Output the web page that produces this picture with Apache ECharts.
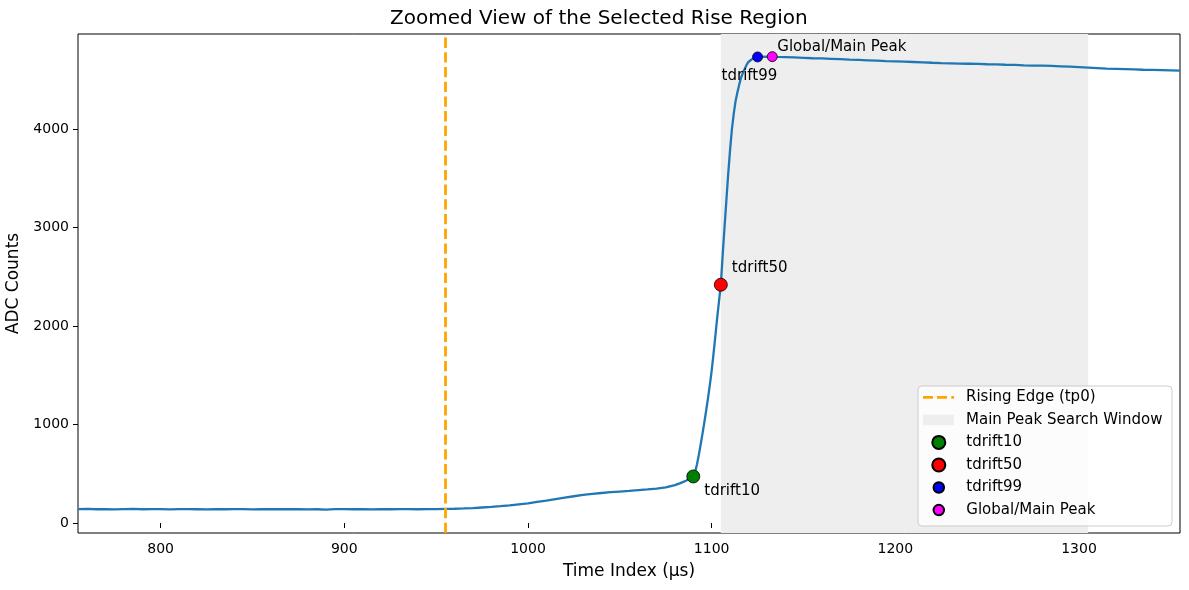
<!DOCTYPE html>
<html>
<head>
<meta charset="utf-8">
<script src="https://cdn.jsdelivr.net/npm/echarts@6/dist/echarts.min.js"></script>
<style>
html,body{margin:0;padding:0;background:#ffffff;}
#chart{width:1189px;height:590px;}
</style>
</head>
<body>
<div id="chart"></div>
<script>
// ---- data ----
const timeIdx = [
  755,760,765,770,775,780,785,790,795,800,805,810,815,820,825,830,835,840,845,850,
  855,860,865,870,875,880,885,890,895,900,905,910,915,920,925,930,935,940,945,950,
  955,960,965,970,975,980,985,990,995,1000,1005,1010,1015,1020,1025,1030,1035,1040,1045,1050,
  1055,1060,1065,1070,1075,1080,1083,1086,1088,1090,1091,1092,1093,1094,1095,1096,1097,1098,1099,1100,
  1101,1102,1103,1104,1105,1106,1107,1108,1109,1110,1111,1112,1113,1114,1115,1116,1117,1118,1119,1120,
  1122,1124,1125,1127,1130,1133,1136,1140,1145,1150,1155,1160,1165,1170,1175,1180,1185,1190,1195,1200,
  1205,1210,1215,1220,1225,1230,1235,1240,1245,1250,1255,1260,1265,1270,1275,1280,1285,1290,1295,1300,
  1305,1310,1315,1320,1325,1330,1335,1340,1345,1350,1355
];
const adc = [
  141,143,140,142,139,141,143,140,141,142,138,141,142,140,138,141,140,142,141,139,
  141,140,142,140,141,139,140,137,142,141,140,141,139,141,140,142,141,140,142,141,
  143,145,148,152,158,164,171,180,190,200,214,228,243,258,272,285,296,305,313,320,
  327,335,342,350,362,385,405,430,450,473,520,595,690,795,905,1020,1140,1265,1400,1545,
  1715,1895,2080,2250,2419,2720,3000,3270,3540,3780,3990,4150,4280,4370,4450,4520,4570,4610,4650,4680,
  4710,4725,4731,4732,4733,4734,4732,4730,4726,4722,4718,4716,4712,4708,4704,4701,4697,4693,4688,4686,
  4683,4680,4677,4672,4668,4666,4664,4662,4660,4657,4655,4652,4650,4646,4644,4642,4640,4636,4632,4627,
  4622,4617,4612,4610,4607,4604,4601,4599,4597,4595,4593
];
const tp0 = 955;
const searchWindow = [1105, 1305];
const markerNames = ['tdrift10', 'tdrift50', 'tdrift99', 'Global/Main Peak'];
const markerTimes = [1090, 1105, 1125, 1133];
const markerValues = [473, 2419, 4731, 4734];
const xTicks = [800, 900, 1000, 1100, 1200, 1300];
const yTicks = [0, 1000, 2000, 3000, 4000];
const xRange = [755, 1355];
const yRange = [-101, 4964];
const legendNames = ['Rising Edge (tp0)', 'Main Peak Search Window', 'tdrift10', 'tdrift50', 'tdrift99', 'Global/Main Peak'];

// ---- styling ----
const FONT = 'DejaVu Sans';
const markerStyle = [
  { color: '#008000', size: 13, offset: [11, 15] },
  { color: '#ff0000', size: 13, offset: [11, -17] },
  { color: '#0000ff', size: 10, offset: [-36, 19] },
  { color: '#ff00ff', size: 10, offset: [5, -10] }
];

const chart = echarts.init(document.getElementById('chart'), null, { renderer: 'canvas' });

const waveform = timeIdx.map((t, i) => [t, adc[i]]);

const series = [
  {
    name: 'Main Peak Search Window',
    type: 'line',
    data: [],
    z: -1,
    silent: true,
    itemStyle: { color: '#eeeeee' },
    lineStyle: { color: '#eeeeee' },
    markArea: {
      silent: true,
      itemStyle: { color: '#eeeeee' },
      label: { show: false },
      data: [[{ xAxis: searchWindow[0] }, { xAxis: searchWindow[1] }]]
    }
  },
  {
    name: 'waveform',
    type: 'line',
    data: waveform,
    showSymbol: false,
    symbol: 'none',
    silent: true,
    z: 2,
    lineStyle: { color: '#1f77b4', width: 2.3 },
    itemStyle: { color: '#1f77b4' }
  },
  {
    name: 'Rising Edge (tp0)',
    type: 'line',
    data: [],
    z: 3,
    silent: true,
    itemStyle: { color: '#ffa500' },
    lineStyle: { color: '#ffa500', width: 2.8, type: [10.3, 4.4] },
    markLine: {
      silent: true,
      symbol: ['none', 'none'],
      label: { show: false },
      lineStyle: { color: '#ffa500', width: 2.8, type: [10.3, 4.4] },
      emphasis: { disabled: true },
      data: [{ xAxis: tp0 }]
    }
  }
];

markerNames.forEach((nm, i) => {
  series.push({
    name: nm,
    type: 'scatter',
    z: 5,
    silent: true,
    symbol: 'circle',
    symbolSize: markerStyle[i].size,
    itemStyle: { color: markerStyle[i].color, borderColor: '#000000', borderWidth: 0.8, opacity: 1 },
    label: {
      show: true,
      formatter: nm,
      position: 'inside',
      align: 'left',
      verticalAlign: 'middle',
      offset: markerStyle[i].offset,
      fontFamily: FONT,
      fontSize: 15,
      color: '#000000'
    },
    data: [[markerTimes[i], markerValues[i]]]
  });
});

// one legend per entry for exact placement
const ICON_W = 31;
const legendCenters = [397.3, 419.9, 442.4, 465.0, 487.5, 510.1];
const legendHeights = [13, 10.5, 13, 13, 10.5, 10.5];
const legends = legendNames.map((nm, i) => {
  let item = { name: nm };
  let left = 923;
  if (i === 0) {
    item.icon = 'path://M0,0h10v2.8h-10z M14,0h10v2.8h-10z M28.3,0h2.7v2.8h-2.7z';
    item.itemStyle = { color: '#ffa500', borderWidth: 0 };
  } else if (i === 1) {
    item.icon = 'rect';
    item.itemStyle = { color: '#eeeeee', borderWidth: 0 };
  } else {
    item.icon = 'circle';
    // circle's bounding box starts inside the icon box
    left = 923 + (ICON_W - legendHeights[i]) / 2 - 0.7;
  }
  return {
    show: true,
    data: [item],
    left: left,
    top: legendCenters[i] - 7.5,
    padding: 0,
    itemWidth: ICON_W,
    itemHeight: legendHeights[i],
    symbolKeepAspect: true,
    selectedMode: false,
    z: 6,
    textStyle: { fontFamily: FONT, fontSize: 15, color: '#000000', padding: [0, 0, 0, 7] }
  };
});

const plainNum = v => String(v);

const option = {
  animation: false,
  backgroundColor: '#ffffff',
  title: {
    text: 'Zoomed View of the Selected Rise Region',
    left: 390,
    top: 9,
    padding: 0,
    textStyle: { fontFamily: FONT, fontSize: 20, fontWeight: 'normal', color: '#000000' }
  },
  grid: {
    left: 78, right: 9, top: 34, bottom: 57,
    show: true,
    borderColor: '#000000',
    borderWidth: 1,
    backgroundColor: 'transparent',
    containLabel: false,
    outerBoundsMode: 'none'
  },
  xAxis: {
    type: 'value',
    min: xRange[0],
    max: xRange[1],
    name: 'Time Index (µs)',
    nameLocation: 'middle',
    nameGap: 30,
    nameTextStyle: { fontFamily: FONT, fontSize: 17, color: '#000000' },
    axisLine: { show: false },
    splitLine: { show: false },
    axisTick: { show: true, inside: false, length: 5, customValues: xTicks, lineStyle: { color: '#000000', width: 1 } },
    axisLabel: { show: true, margin: 9, customValues: xTicks, formatter: plainNum, fontFamily: FONT, fontSize: 14, color: '#000000' }
  },
  yAxis: {
    type: 'value',
    min: yRange[0],
    max: yRange[1],
    name: 'ADC Counts',
    nameLocation: 'middle',
    nameGap: 51,
    nameTextStyle: { fontFamily: FONT, fontSize: 17, color: '#000000' },
    axisLine: { show: false },
    splitLine: { show: false },
    axisTick: { show: true, inside: false, length: 5, customValues: yTicks, lineStyle: { color: '#000000', width: 1 } },
    axisLabel: { show: true, margin: 9, customValues: yTicks, formatter: plainNum, fontFamily: FONT, fontSize: 14, color: '#000000' }
  },
  legend: legends,
  graphic: [
    {
      type: 'rect',
      z: 4,
      silent: true,
      shape: { x: 918, y: 386, width: 254, height: 140, r: 4 },
      style: { fill: 'rgba(255,255,255,0.8)', stroke: '#cccccc', lineWidth: 1 }
    }
  ],
  series: series
};

chart.setOption(option);
</script>
</body>
</html>
